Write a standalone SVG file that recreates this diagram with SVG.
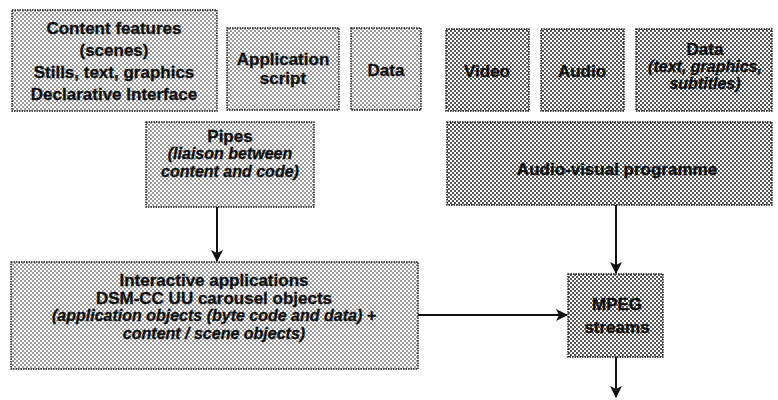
<svg xmlns="http://www.w3.org/2000/svg" width="778" height="400" viewBox="0 0 778 400">
  <defs>
    <!-- halftone screens used as box fills -->
    <pattern id="screenLight" patternUnits="userSpaceOnUse" width="4" height="4">
      <rect width="4" height="4" fill="#ffffff"/>
      <circle cx="1" cy="1" r="0.8" fill="#1a1a1a"/>
      <circle cx="3" cy="3" r="0.8" fill="#1a1a1a"/>
    </pattern>
    <pattern id="screenDark" patternUnits="userSpaceOnUse" width="4" height="4">
      <rect width="4" height="4" fill="#ffffff"/>
      <circle cx="1" cy="1" r="1.0" fill="#1a1a1a"/>
      <circle cx="3" cy="3" r="1.0" fill="#1a1a1a"/>
    </pattern>
    <marker id="head" viewBox="0 0 12 12" markerWidth="12" markerHeight="12" refX="11" refY="6" orient="auto" markerUnits="userSpaceOnUse">
      <path d="M0,0 L12,6 L0,12 L3,6 z" fill="#111"/>
    </marker>
    <style>
      .light { fill: url(#screenLight); stroke: #1a1a1a; stroke-width: 1.4; stroke-dasharray: 1.5 1; }
      .dark { fill: url(#screenDark); stroke: #1a1a1a; stroke-width: 1.4; stroke-dasharray: 1.5 1; }
      text { font-family: "Liberation Sans", Arial, sans-serif; font-size: 17px; font-weight: 700; fill: #111; stroke: #111; stroke-width: 0.35; text-anchor: middle; }
      .it { font-style: italic; font-size: 16px; }
      .conn { stroke: #111; stroke-width: 2; fill: none; }
    </style>
  </defs>

  <g id="content-features">
    <rect class="light" x="12" y="10" width="205" height="101"/>
    <text x="114" y="34">Content features</text>
    <text x="114" y="56" font-size="16">(scenes)</text>
    <text x="114" y="78">Stills, text, graphics</text>
    <text x="114" y="100">Declarative Interface</text>
  </g>

  <g id="application-script">
    <rect class="light" x="227" y="28" width="112" height="82"/>
    <text x="283" y="65">Application</text>
    <text x="283" y="84">script</text>
  </g>

  <g id="data-left">
    <rect class="light" x="351" y="28" width="70" height="82"/>
    <text x="386" y="76">Data</text>
  </g>

  <g id="video">
    <rect class="dark" x="446" y="29" width="83" height="82"/>
    <text x="487" y="77">Video</text>
  </g>

  <g id="audio">
    <rect class="dark" x="541" y="29" width="83" height="82"/>
    <text x="582" y="77">Audio</text>
  </g>

  <g id="data-right">
    <rect class="dark" x="636" y="29" width="136" height="82"/>
    <text x="705" y="55">Data</text>
    <text x="705" y="72" class="it">(text, graphics,</text>
    <text x="705" y="89" class="it">subtitles)</text>
  </g>

  <g id="pipes">
    <rect class="light" x="146" y="122" width="168" height="85"/>
    <text x="230" y="142">Pipes</text>
    <text x="230" y="159" class="it">(liaison between</text>
    <text x="230" y="177" class="it">content and code)</text>
  </g>

  <g id="audio-visual-programme">
    <rect class="dark" x="447" y="122" width="325" height="83"/>
    <text x="617" y="175">Audio-visual programme</text>
  </g>

  <g id="interactive-applications">
    <rect class="light" x="11" y="262" width="407" height="107"/>
    <text x="214" y="286">Interactive applications</text>
    <text x="214" y="304">DSM-CC UU carousel objects</text>
    <text x="214" y="321" class="it">(application objects (byte code and data) +</text>
    <text x="214" y="339" class="it">content / scene objects)</text>
  </g>

  <g id="mpeg-streams">
    <rect class="dark" x="568" y="274" width="95" height="83"/>
    <text x="617" y="310">MPEG</text>
    <text x="617" y="333">streams</text>
  </g>

  <g id="connectors">
    <line class="conn" x1="217" y1="207" x2="217" y2="261" marker-end="url(#head)"/>
    <line class="conn" x1="616" y1="205" x2="616" y2="273" marker-end="url(#head)"/>
    <line class="conn" x1="418" y1="315" x2="567" y2="315" marker-end="url(#head)"/>
    <line class="conn" x1="616" y1="357" x2="616" y2="397" marker-end="url(#head)"/>
  </g>
</svg>
